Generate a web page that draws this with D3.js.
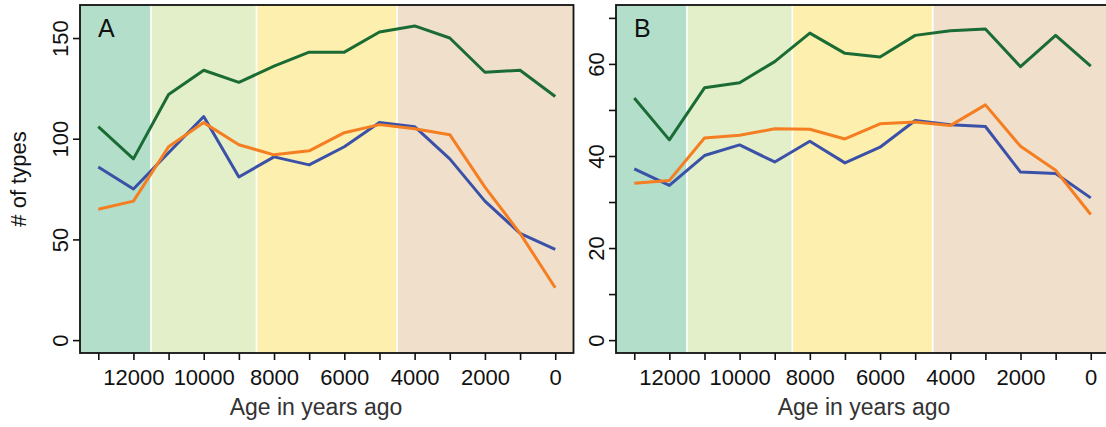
<!DOCTYPE html>
<html>
<head>
<meta charset="utf-8">
<script src="https://cdn.jsdelivr.net/npm/d3@7"></script>
<style>
  body { margin: 0; background: #fff; }
  text { font-family: "Liberation Sans", Arial, sans-serif; }
</style>
</head>
<body>
<script>
// ages in years ago, shared by both panels
var ages = [13000, 12000, 11000, 10000, 9000, 8000, 7000, 6000, 5000, 4000, 3000, 2000, 1000, 0];

// panel A
var aGreen  = [106, 90, 122, 134, 128, 136, 143, 143, 153, 156, 150, 133, 134, 121];
var aBlue   = [86, 75, 93, 111, 81, 91, 87, 96, 108, 106, 90, 69, 53, 45];
var aOrange = [65, 69, 96, 108, 97, 92, 94, 103, 107, 105, 102, 76, 53, 26];

// panel B
var bGreen  = [52.6, 43.5, 54.8, 55.9, 60.5, 66.7, 62.3, 61.5, 66.2, 67.2, 67.6, 59.4, 66.2, 59.5];
var bBlue   = [37.2, 33.6, 40.1, 42.4, 38.7, 43.2, 38.5, 41.9, 47.7, 46.8, 46.4, 36.5, 36.2, 30.9];
var bOrange = [34.1, 34.7, 43.9, 44.5, 45.9, 45.8, 43.7, 47.0, 47.4, 46.6, 51.1, 42.1, 36.9, 27.3];

// period boundaries (years ago)
var bandEdges = [13520, 11500, 8500, 4500, -520];
var bandColors = ['#b3dfca', '#e3efc8', '#fdf0ae', '#f0e0cb'];

var xTicks = d3.range(13000, -1, -1000);
var xLabels = [12000, 10000, 8000, 6000, 4000, 2000, 0];

var width = 1106, height = 427;
var plotTop = 5, plotBottom = 353;

var svg = d3.select('body').append('svg')
    .attr('width', width)
    .attr('height', height);

function drawPanel(p) {
    var x = d3.scaleLinear().domain([13520, -520]).range([p.left, p.right]);
    var y = d3.scaleLinear().domain(p.yDomain).range([plotBottom, plotTop]);

    var g = svg.append('g');

    // background periods
    g.selectAll('.band')
        .data(bandColors)
        .enter()
        .append('rect')
        .attr('x', (d, i) => x(bandEdges[i]))
        .attr('width', (d, i) => x(bandEdges[i + 1]) - x(bandEdges[i]))
        .attr('y', plotTop)
        .attr('height', plotBottom - plotTop)
        .attr('fill', d => d);

    g.selectAll('.sep')
        .data(bandEdges.slice(1, 4))
        .enter()
        .append('line')
        .attr('x1', d => x(d)).attr('x2', d => x(d))
        .attr('y1', plotTop).attr('y2', plotBottom)
        .attr('stroke', '#fff')
        .attr('stroke-width', 1.6);

    var line = d3.line()
        .x((d, i) => x(ages[i]))
        .y(d => y(d));

    var series = [
        { values: p.green, color: '#1b6b35' },
        { values: p.blue, color: '#3b51a8' },
        { values: p.orange, color: '#f47e21' }
    ];

    series.forEach(s => {
        g.append('path')
            .attr('d', line(s.values))
            .attr('fill', 'none')
            .attr('stroke', s.color)
            .attr('stroke-width', 3)
            .attr('stroke-linejoin', 'round');
    });

    // frame
    g.append('rect')
        .attr('x', p.left).attr('y', plotTop)
        .attr('width', p.right - p.left).attr('height', plotBottom - plotTop)
        .attr('fill', 'none')
        .attr('stroke', '#111')
        .attr('stroke-width', 1.8);

    // x axis
    var xAxis = g.append('g')
        .attr('transform', `translate(0, ${plotBottom})`)
        .call(d3.axisBottom(x).tickValues(xTicks).tickSize(7)
            .tickFormat(d => xLabels.indexOf(d) >= 0 ? d : ''));
    xAxis.select('.domain').remove();
    xAxis.selectAll('line').attr('stroke', '#111').attr('stroke-width', 1.6);
    xAxis.selectAll('text')
        .attr('y', 32)
        .attr('dy', 0)
        .attr('font-size', 22)
        .attr('fill', '#111');

    // y axis
    var yAxis = g.append('g')
        .attr('transform', `translate(${p.left}, 0)`)
        .call(d3.axisLeft(y).tickValues(p.yTicks).tickSize(7)
            .tickFormat(d => p.yLabels.indexOf(d) >= 0 ? d : ''));
    yAxis.select('.domain').remove();
    yAxis.selectAll('line').attr('stroke', '#111').attr('stroke-width', 1.6);
    yAxis.selectAll('text')
        .attr('x', 0).attr('y', 0).attr('dy', 0)
        .attr('transform', 'translate(-12, 0) rotate(-90)')
        .attr('text-anchor', 'middle')
        .attr('font-size', 22)
        .attr('fill', '#111');

    g.append('text')
        .attr('x', p.titleX)
        .attr('y', 415)
        .attr('text-anchor', 'middle')
        .attr('font-size', 23)
        .attr('fill', '#333')
        .text('Age in years ago');

    g.append('text')
        .attr('x', p.left + 18)
        .attr('y', 37)
        .attr('font-size', 25)
        .attr('fill', '#111')
        .text(p.letter);
}

drawPanel({
    letter: 'A', left: 80, right: 573.5, titleX: 316,
    yDomain: [-6.4, 166.4], yTicks: [0, 50, 100, 150], yLabels: [0, 50, 100, 150],
    green: aGreen, blue: aBlue, orange: aOrange
});

drawPanel({
    letter: 'B', left: 616, right: 1109, titleX: 864,
    yDomain: [-2.8, 72.8], yTicks: [0, 10, 20, 30, 40, 50, 60, 70], yLabels: [0, 20, 40, 60],
    green: bGreen, blue: bBlue, orange: bOrange
});

svg.append('text')
    .attr('transform', `translate(26, ${(plotTop + plotBottom) / 2}) rotate(-90)`)
    .attr('text-anchor', 'middle')
    .attr('font-size', 22)
    .attr('fill', '#111')
    .text('# of types');
</script>
</body>
</html>
